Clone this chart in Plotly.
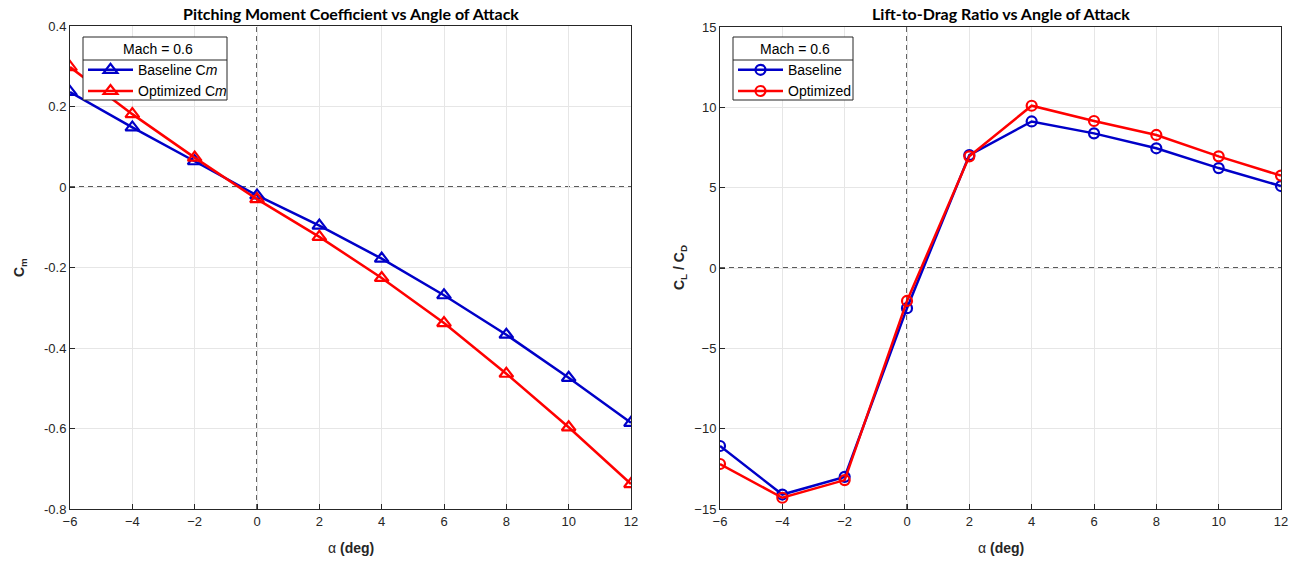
import plotly.graph_objects as go

alpha = [-6, -4, -2, 0, 2, 4, 6, 8, 10, 12]
cm_base = [0.236, 0.148, 0.064, -0.021, -0.096, -0.178, -0.269, -0.367, -0.474, -0.586]
cm_opt = [0.298, 0.181, 0.073, -0.030, -0.124, -0.226, -0.338, -0.464, -0.597, -0.738]
ld_base = [-11.08, -14.1, -13.0, -2.5, 7.03, 9.12, 8.38, 7.45, 6.22, 5.1]
ld_opt = [-12.2, -14.3, -13.2, -2.05, 6.95, 10.1, 9.15, 8.28, 6.95, 5.75]

BLUE = "#0000c8"
RED = "#ff0000"

fig = go.Figure()

fig.add_trace(go.Scatter(x=alpha, y=cm_base, mode="lines+markers", name="Baseline C<i>m</i>",
                         line=dict(color=BLUE, width=2.5),
                         marker=dict(symbol="triangle-up-open", size=12, color=BLUE, line=dict(width=2.2, color=BLUE)),
                         xaxis="x", yaxis="y", legend="legend"))
fig.add_trace(go.Scatter(x=alpha, y=cm_opt, mode="lines+markers", name="Optimized C<i>m</i>",
                         line=dict(color=RED, width=2.5),
                         marker=dict(symbol="triangle-up-open", size=12, color=RED, line=dict(width=2.2, color=RED)),
                         xaxis="x", yaxis="y", legend="legend"))
fig.add_trace(go.Scatter(x=alpha, y=ld_base, mode="lines+markers", name="Baseline",
                         line=dict(color=BLUE, width=2.5),
                         marker=dict(symbol="circle-open", size=10, color=BLUE, line=dict(width=2.2, color=BLUE)),
                         xaxis="x2", yaxis="y2", legend="legend2"))
fig.add_trace(go.Scatter(x=alpha, y=ld_opt, mode="lines+markers", name="Optimized",
                         line=dict(color=RED, width=2.5),
                         marker=dict(symbol="circle-open", size=10, color=RED, line=dict(width=2.2, color=RED)),
                         xaxis="x2", yaxis="y2", legend="legend2"))

W, H = 1299, 561
L1, R1 = 70, 631
L2, R2 = 720, 1281
T1, B1 = 26, 509
T, B = 27, 509

tickfont = dict(family="Liberation Sans, Arial", size=13, color="#262626")
axcommon = dict(showline=True, linecolor="#262626", linewidth=1, mirror=True, ticks="inside",
                ticklen=5, tickcolor="#262626", showgrid=True, gridcolor="#e6e6e6", gridwidth=1,
                zeroline=False, tickfont=tickfont, automargin=False)

legfont = dict(family="Liberation Sans, Arial", size=14, color="black")
fig.update_layout(
    width=W, height=H, margin=dict(l=0, r=0, t=0, b=0, autoexpand=False),
    paper_bgcolor="white", plot_bgcolor="white",
    xaxis=dict(domain=[L1 / W, R1 / W], range=[-6, 12], tickvals=list(range(-6, 13, 2)), anchor="y", **axcommon),
    yaxis=dict(domain=[1 - B1 / H, 1 - T1 / H], range=[-0.8, 0.4], tickvals=[-0.8, -0.6, -0.4, -0.2, 0, 0.2, 0.4],
               ticktext=["-0.8", "-0.6", "-0.4", "-0.2", "0", "0.2", "0.4"], anchor="x", **axcommon),
    xaxis2=dict(domain=[L2 / W, R2 / W], range=[-6, 12], tickvals=list(range(-6, 13, 2)), anchor="y2", **axcommon),
    yaxis2=dict(domain=[1 - B / H, 1 - T / H], range=[-15, 15], tickvals=list(range(-15, 16, 5)), anchor="x2", **axcommon),
    legend=dict(x=83 / W, y=1 - 36 / H, xanchor="left", yanchor="top", bgcolor="rgba(0,0,0,0)",
                borderwidth=0, font=legfont,
                title=dict(text="Mach = 0.6", side="top center", font=legfont),
                tracegroupgap=0, itemwidth=45),
    legend2=dict(x=733 / W, y=1 - 36 / H, xanchor="left", yanchor="top", bgcolor="rgba(0,0,0,0)",
                 borderwidth=0, font=legfont,
                 title=dict(text="Mach = 0.6", side="top center", font=legfont),
                 tracegroupgap=0, itemwidth=45),
    showlegend=True,
)

# zero reference lines
for xa, ya in [("x", "y"), ("x2", "y2")]:
    fig.add_shape(type="line", xref=f"{xa} domain", yref=ya, x0=0, x1=1, y0=0, y1=0,
                  line=dict(color="#262626", width=1.4, dash="5px,4px"), layer="below")
    fig.add_shape(type="line", xref=xa, yref=f"{ya} domain", x0=0, x1=0, y0=0, y1=1,
                  line=dict(color="#262626", width=1.4, dash="5px,4px"), layer="below")

# legend boxes (white, bordered) with separator under the title
for x0, x1 in [(83, 227), (733, 853)]:
    fig.add_shape(type="rect", xref="paper", yref="paper", x0=x0 / W, x1=x1 / W, y0=1 - 100 / H, y1=1 - 37 / H,
                  fillcolor="white", line=dict(color="#262626", width=1), layer="above")
    fig.add_shape(type="line", xref="paper", yref="paper", x0=x0 / W, x1=x1 / W, y0=1 - 60 / H, y1=1 - 60 / H,
                  line=dict(color="#262626", width=1), layer="above")

titlefont = dict(family="Lato, Open Sans, Liberation Sans", size=16, color="black")
fig.add_annotation(text="<b>Pitching Moment Coefficient vs Angle of Attack</b>", x=(L1 + R1) / 2 / W, y=1 - 14 / H,
                   xref="paper", yref="paper", showarrow=False, font=titlefont, xanchor="center", yanchor="middle")
fig.add_annotation(text="<b>Lift-to-Drag Ratio vs Angle of Attack</b>", x=(L2 + R2) / 2 / W, y=1 - 14 / H,
                   xref="paper", yref="paper", showarrow=False, font=titlefont, xanchor="center", yanchor="middle")

labfont = dict(family="Liberation Sans, Arial", size=14, color="#262626")
fig.add_annotation(text="α <b>(deg)</b>", x=(L1 + R1) / 2 / W, y=1 - 548 / H, xref="paper", yref="paper",
                   showarrow=False, font=labfont, xanchor="center", yanchor="middle")
fig.add_annotation(text="α <b>(deg)</b>", x=(L2 + R2) / 2 / W, y=1 - 548 / H, xref="paper", yref="paper",
                   showarrow=False, font=labfont, xanchor="center", yanchor="middle")
fig.add_annotation(text="<b>C<sub>m</sub></b>", x=20 / W, y=1 - 268 / H, xref="paper", yref="paper",
                   showarrow=False, font=labfont, textangle=-90, xanchor="center", yanchor="middle")
fig.add_annotation(text="<b>C<sub>L</sub> / C<sub>D</sub></b>", x=680 / W, y=1 - 268 / H, xref="paper", yref="paper",
                   showarrow=False, font=labfont, textangle=-90, xanchor="center", yanchor="middle")

fig.write_html("out.html")
